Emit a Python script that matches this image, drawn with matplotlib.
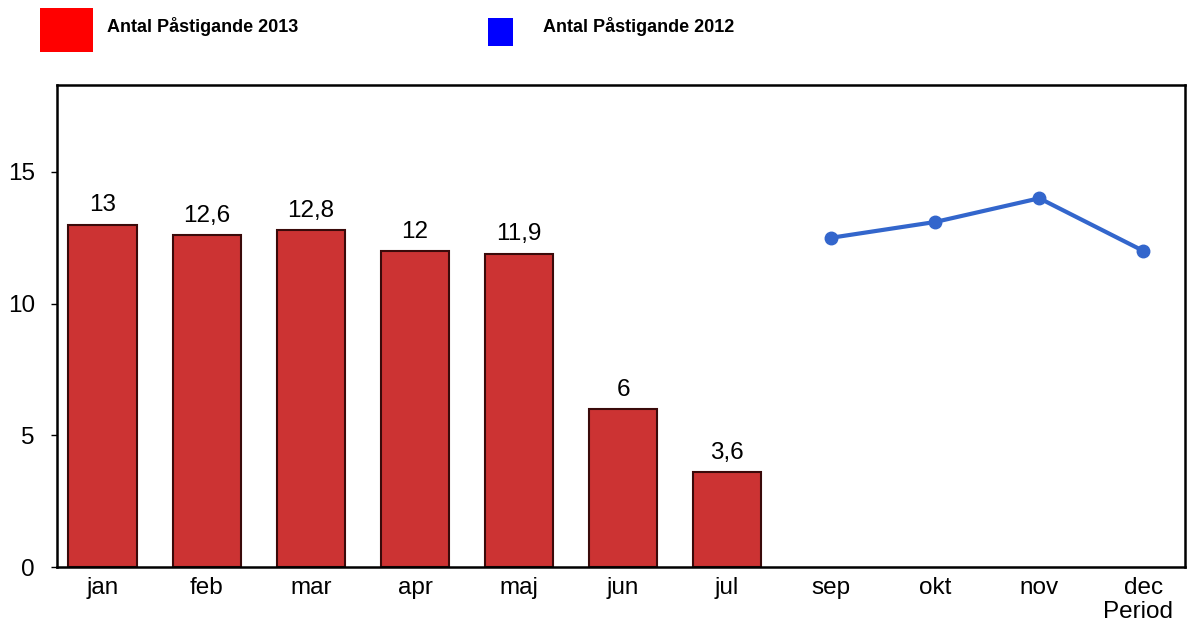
import matplotlib
matplotlib.use("Agg")
import matplotlib.pyplot as plt
from matplotlib.patches import Rectangle

plt.rcParams['font.family'] = ['Liberation Sans', 'DejaVu Sans']

categories = ['jan', 'feb', 'mar', 'apr', 'maj', 'jun', 'jul', 'sep', 'okt', 'nov', 'dec']
bar_cats = ['jan', 'feb', 'mar', 'apr', 'maj', 'jun', 'jul']
bar_values = [13, 12.6, 12.8, 12, 11.9, 6, 3.6]
bar_labels = ['13', '12,6', '12,8', '12', '11,9', '6', '3,6']
line_cats = ['sep', 'okt', 'nov', 'dec']
line_values = [12.5, 13.1, 14, 12]
yticks = [0, 5, 10, 15]
legend_labels = ['Antal Påstigande 2013', 'Antal Påstigande 2012']

fig = plt.figure(figsize=(11.93, 6.27), dpi=100)
ax = fig.add_axes([57/1193, 60/627, (1185-57)/1193, (567-85)/627])

idx = {c: i for i, c in enumerate(categories)}
bx = [idx[c] for c in bar_cats]
lx = [idx[c] for c in line_cats]

ax.bar(bx, bar_values, width=0.66, color='#cc3333', edgecolor='#3a0a0a', linewidth=1.5, zorder=2)
for x, v, t in zip(bx, bar_values, bar_labels):
    ax.annotate(t, (x, v), xytext=(0, 6), textcoords='offset points',
                ha='center', va='bottom', fontsize=17.5)
ax.plot(lx, line_values, color='#3366cc', linewidth=3, marker='o', markersize=9, zorder=3)

ax.set_xlim(-0.44, 10.4)
ax.set_ylim(0, 18.3)
ax.set_xticks(range(len(categories)))
ax.set_xticklabels(categories, fontsize=17.5)
ax.set_yticks(yticks)
ax.set_yticklabels([str(t) for t in yticks], fontsize=17.5)
ax.tick_params(axis='x', length=0, pad=7)
ax.tick_params(axis='y', length=4, width=1, pad=12)
for s in ax.spines.values():
    s.set_linewidth(1.8)
    s.set_color('black')

fig.text(1173/1193, 1 - 612/627, 'Period', ha='right', va='center', fontsize=17.5)

# legend
fig.patches.append(Rectangle((40/1193, 1 - 52/627), 53/1193, 44/627, transform=fig.transFigure,
                             facecolor='#ff0000', edgecolor='none'))
fig.patches.append(Rectangle((488/1193, 1 - 46/627), 25/1193, 28/627, transform=fig.transFigure,
                             facecolor='#0000ff', edgecolor='none'))
fig.text(107/1193, 1 - 26/627, legend_labels[0], ha='left', va='center', fontsize=13, fontweight='bold')
fig.text(543/1193, 1 - 26/627, legend_labels[1], ha='left', va='center', fontsize=13, fontweight='bold')

fig.savefig('out.png', dpi=100)
